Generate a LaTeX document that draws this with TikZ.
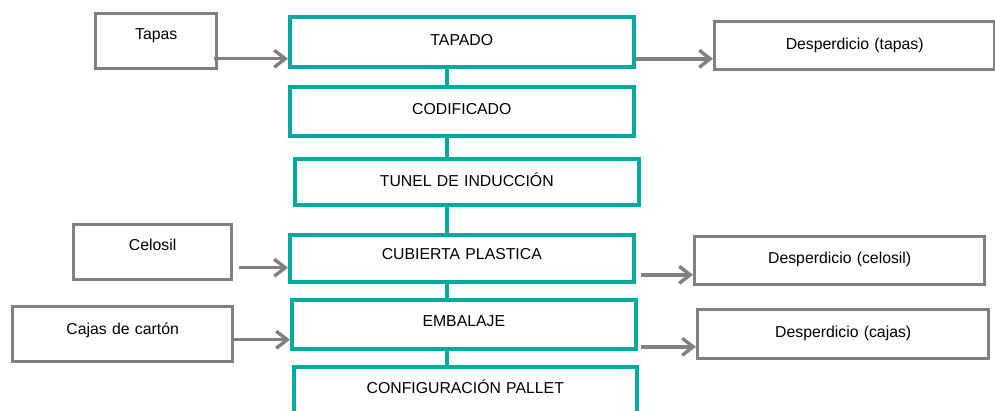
\documentclass[tikz,border=0pt]{standalone}
\usepackage{fontspec}
\setmainfont{Liberation Sans}
\usetikzlibrary{arrows.meta,calc}
\definecolor{tealc}{RGB}{0,170,158}
\definecolor{grayc}{RGB}{128,128,128}
\begin{document}
\begin{tikzpicture}[x=1pt,y=-1pt,
  basebox/.style={fill=white, inner sep=0pt, anchor=north west, align=center,
    font=\fontsize{15.8}{18}\selectfont},
  procbox/.style={basebox, draw=tealc, line width=3.6pt},
  matbox/.style={basebox, draw=grayc, line width=3.4pt},
  spine/.style={draw=tealc, line width=4.2pt},
  garrow/.style={draw=grayc, line width=3.4pt,
    -{Straight Barb[length=11pt,width=17pt]}}]
\useasboundingbox (0,0) rectangle (995,410);
% process boxes
\node[procbox, minimum width=344pt, text width=344pt, text height=28.7pt, text depth=21.3pt] (tapado) at (288,15) {TAPADO};
\node[procbox, minimum width=344pt, text width=344pt, text height=28pt, text depth=21pt] (codif) at (288,85) {CODIFICADO};
\node[procbox, minimum width=344pt, text width=344pt, text height=28pt, text depth=18pt] (tunel) at (293,157) {TUNEL DE INDUCCIÓN};
\node[procbox, minimum width=344pt, text width=344pt, text height=25pt, text depth=22pt] (cubierta) at (288,233) {CUBIERTA PLASTICA};
\node[procbox, minimum width=344pt, text width=344pt, text height=27pt, text depth=22pt] (embalaje) at (290,298) {EMBALAJE};
\node[procbox, minimum width=343pt, text width=343pt, text height=27pt, text depth=40pt] (config) at (292,365) {CONFIGURACIÓN PALLET};
% material boxes
\node[matbox, minimum width=121pt, text width=121pt, text height=26pt, text depth=29pt] (tapas) at (94,12) {Tapas};
\node[matbox, minimum width=280pt, text width=280pt, text height=28pt, text depth=20pt] (desptapas) at (713,20) {Desperdicio (tapas)};
\node[matbox, minimum width=158pt, text width=158pt, text height=26pt, text depth=29pt] (celosil) at (72,223) {Celosil};
\node[matbox, minimum width=220pt, text width=220pt, text height=28pt, text depth=27pt] (cajas) at (11,305) {Cajas de cartón};
\node[matbox, minimum width=290pt, text width=290pt, text height=27pt, text depth=21pt] (despcelosil) at (693,235) {Desperdicio (celosil)};
\node[matbox, minimum width=291pt, text width=291pt, text height=28pt, text depth=21pt] (despcajas) at (696,308) {Desperdicio (cajas)};
% spine
\coordinate (sx) at (447,0);
\draw[spine] (tapado.south -| sx) -- (codif.north -| sx);
\draw[spine] (codif.south -| sx) -- (tunel.north -| sx);
\draw[spine] (tunel.south -| sx) -- (cubierta.north -| sx);
\draw[spine] (cubierta.south -| sx) -- (embalaje.north -| sx);
\draw[spine] (embalaje.south -| sx) -- (config.north -| sx);
% arrows
\draw[garrow] ($(tapas.east)+(-4,17.5)$) coordinate (s1) -- (s1 -| tapado.west);
\draw[garrow] ($(tapado.east)+(0,17)$) coordinate (s2) -- (s2 -| desptapas.west);
\draw[garrow] ($(celosil.east)+(6,15.5)$) coordinate (s3) -- (s3 -| cubierta.west);
\draw[garrow] ($(cajas.east)+(0,5.5)$) coordinate (s4) -- (s4 -| embalaje.west);
\draw[garrow] ($(cubierta.east)+(5,16.5)$) coordinate (s5) -- (s5 -| despcelosil.west);
\draw[garrow] ($(embalaje.east)+(3,22.5)$) coordinate (s6) -- (s6 -| despcajas.west);
\end{tikzpicture}
\end{document}
